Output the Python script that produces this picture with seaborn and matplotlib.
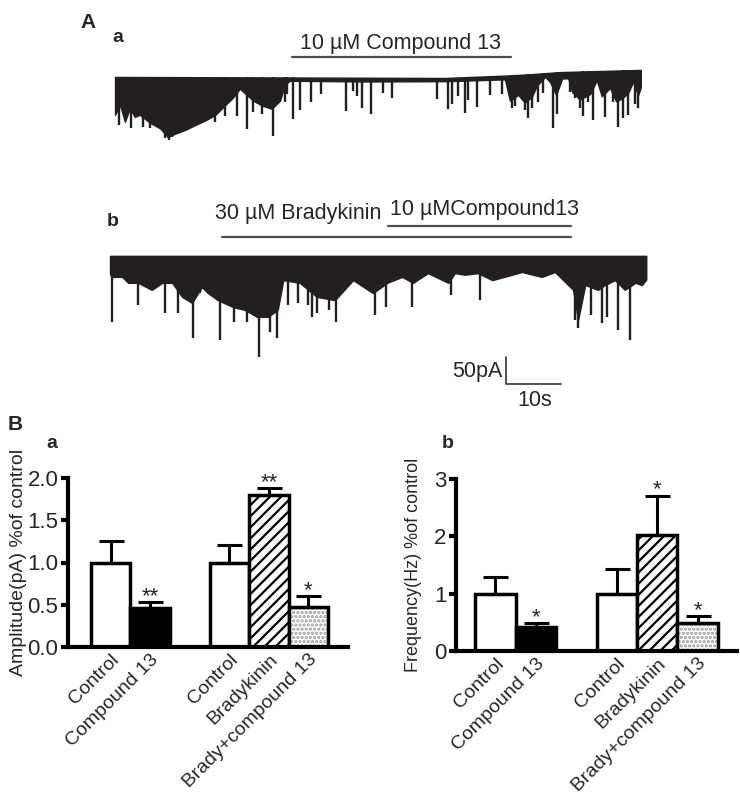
import numpy as np
import pandas as pd
import seaborn as sns
import matplotlib.pyplot as plt
from matplotlib.lines import Line2D
from matplotlib.patches import Rectangle

# ---- Panel A: Stromspuren (Zeit in s, Amplitude in pA relativ zur Basislinie) ----
trace_a_env_t = [0, 0.9, 1.8, 2.7, 3.6, 4.5, 6.4, 8.2, 9.6, 11.1, 12.7, 14.5, 16.4, 18.2, 20.0,
                 21.5, 22.7, 24.0, 25.1, 26.7, 28.5, 30.0, 30.9, 31.8, 45.0, 60.0, 70.9, 71.8,
                 73.3, 74.5, 75.8, 76.7, 78.2, 79.1, 80.2, 81.3, 82.4, 83.1, 84.5, 86.4, 87.6,
                 88.5, 90.0, 91.1, 92.2, 93.3, 94.2, 95.1, 95.6]
trace_a_env = [-68, -50, -81, -56, -72, -68, -83, -93, -109, -102, -96, -87, -78, -68, -50,
               -35, -19, -31, -41, -50, -56, -41, -11, -4, -5, -4, -5, -45,
               -35, -50, -40, -20, -5, -15, -40, -10, -10, -35, -50, -40, -15,
               -45, -30, -55, -50, -40, -20, -45, -30]
trace_a_drift_t = [0, 62.7, 75.5, 80.9, 95.5]
trace_a_drift = [0, -2, 5, 9, 13]
trace_a_spike_t = [0.7, 2.9, 5.1, 6.4, 9.1, 9.8, 10.4, 18.2, 20.0, 22.2, 24.0, 25.1, 26.7, 28.7,
                   30.9, 31.3, 32.4, 33.6, 35.6, 37.5, 42.0, 43.3, 44.0, 44.9, 46.5, 48.7, 50.4,
                   58.5, 60.5, 61.3, 62.4, 63.6, 64.2, 65.8, 68.2, 70.4, 72.2, 72.7, 74.5, 75.1,
                   75.8, 76.9, 77.8, 79.6, 80.4, 82.7, 83.6, 84.5, 85.1, 86.0, 86.9, 89.1, 90.5,
                   91.5, 92.4, 93.3, 94.5, 95.1]
trace_a_spike = [-87, -93, -91, -93, -111, -115, -109, -81, -69, -69, -93, -63, -65, -106,
                 -44, -28, -74, -59, -44, -28, -59, -22, -31, -54, -65, -26, -35,
                 -37, -56, -46, -31, -63, -39, -54, -33, -31, -59, -56, -64, -79,
                 -61, -51, -34, -100, -76, -35, -46, -65, -81, -55, -88, -83, -56,
                 -103, -86, -80, -61, -69]

trace_b_env_t = [0, 0.4, 2.2, 3.3, 5.1, 7.6, 9.5, 11.3, 13.1, 14.9, 16.7, 17.8, 19.6, 22.4, 24.5,
                 26.7, 28.7, 30.5, 31.5, 34.5, 37.6, 40.9, 44.2, 47.8, 50.4, 53.1, 55.1, 57.8,
                 61.5, 62.7, 64.5, 66.9, 69.5, 74.9, 78.5, 80.9, 84.2, 85.1, 86.4, 88.7, 90.0,
                 91.8, 93.6, 95.5, 96.7, 97.5]
trace_b_env = [-30, -35, -35, -46, -46, -59, -46, -46, -72, -83, -54, -65, -78, -91, -96,
               -109, -109, -96, -41, -46, -72, -78, -41, -65, -46, -35, -46, -28,
               -46, -28, -31, -28, -41, -26, -35, -26, -59, -115, -50, -59, -50,
               -41, -59, -46, -50, -40]
trace_b_spike_t = [0.4, 5.1, 10.0, 12.4, 15.1, 16.4, 20.0, 22.5, 24.9, 27.1, 29.1, 30.4, 32.4,
                   34.2, 36.0, 36.7, 37.6, 39.8, 41.1, 48.2, 50.2, 54.9, 62.0, 67.3, 84.5, 85.1,
                   87.5, 89.5, 90.4, 92.4, 94.5]
trace_b_spike = [-119, -87, -102, -102, -148, -65, -152, -119, -119, -183, -137, -148, -87,
                 -83, -87, -109, -102, -96, -119, -106, -91, -91, -69, -78, -115, -130,
                 -106, -120, -109, -133, -152]

# ---- Panel B: Balkendiagramme ----
conds = ['ctrl_a', 'cpd13', 'ctrl_b', 'brady', 'brady_cpd13']
order = ['ctrl_a', 'cpd13', 'gap', 'ctrl_b', 'brady', 'brady_cpd13']
tick_labels = ['Control', 'Compound 13', '', 'Control', 'Bradykinin', 'Brady+compound 13']
amp_mean = [1.0, 0.46, 1.0, 1.80, 0.47]
amp_sem = [0.26, 0.07, 0.21, 0.08, 0.13]
amp_stars = ['', '**', '', '**', '*']
freq_mean = [1.0, 0.42, 1.0, 2.03, 0.48]
freq_sem = [0.29, 0.07, 0.43, 0.68, 0.13]
freq_stars = ['', '*', '', '*', '*']

bar_colors = {'ctrl_a': 'white', 'cpd13': 'black', 'ctrl_b': 'white',
              'brady': 'white', 'brady_cpd13': 'white'}

sns.set_theme(style='ticks')
plt.rcParams['font.family'] = ['Liberation Sans', 'DejaVu Sans']
plt.rcParams['hatch.linewidth'] = 1.6

W, H = 740, 797
TRACE = '#231f20'
fig = plt.figure(figsize=(W / 100, H / 100), dpi=100)


def box(l, t, r, b):
    return [l / W, 1 - b / H, (r - l) / W, (b - t) / H]


def ftext(x, y, s, **kw):
    fig.text(x / W, 1 - y / H, s, **kw)


def fline(x0, x1, y, **kw):
    fig.add_artist(Line2D([x0 / W, x1 / W], [1 - y / H, 1 - y / H], **kw))


# Spuren-Achse: 5.5 px pro s, 0.54 px pro pA
ax_tr = fig.add_axes(box(100, 40, 660, 400))
ax_tr.set_xlim(0, 560 / 5.5)
ax_tr.set_ylim(-360 / 0.54, 0)
ax_tr.axis('off')


def draw_trace(t_off, base, env_t, env, sp_t, sp, top, drift_t=None, drift=None):
    env_t = np.asarray(env_t, float)
    sp_t = np.asarray(sp_t, float)
    if drift_t is None:
        d_env, d_sp = 0, 0
    else:
        d_env = np.interp(env_t, drift_t, drift)
        d_sp = np.interp(sp_t, drift_t, drift)
    ax_tr.fill_between(t_off + env_t, base + d_env + top, base + d_env + np.asarray(env),
                       color=TRACE, lw=1.0)
    ax_tr.vlines(t_off + sp_t, base + d_sp + top, base + d_sp + np.asarray(sp),
                 color=TRACE, lw=1.7)


draw_trace(2.73, -70.4, trace_a_env_t, trace_a_env, trace_a_spike_t, trace_a_spike, 2,
           trace_a_drift_t, trace_a_drift)
draw_trace(1.82, -403.7, trace_b_env_t, trace_b_env, trace_b_spike_t, trace_b_spike, 4)

# Skalenbalken 50 pA / 10 s
sx, sy = 73.8, -637
ax_tr.plot([sx, sx, sx + 10], [sy + 50, sy, sy], color='#333333', lw=1.2)
ftext(503, 372, '50pA', ha='right', va='center', fontsize=15.5)
ftext(535, 401, '10s', ha='center', va='center', fontsize=15.5)

# Beschriftungen Panel A
ftext(88, 22, 'A', ha='center', va='center', fontsize=15, fontweight='bold')
ftext(118, 38, 'a', ha='center', va='center', fontsize=14, fontweight='bold')
ftext(113, 222, 'b', ha='center', va='center', fontsize=14, fontweight='bold')
ftext(400, 44, '10 µM Compound 13', ha='center', va='center', fontsize=15.5)
fline(292, 511, 57, color='#4d4d4d', lw=1.6)
ftext(298, 213, '30 µM Bradykinin', ha='center', va='center', fontsize=15.5)
ftext(485, 209, '10 µMCompound13', ha='center', va='center', fontsize=15.5)
fline(222, 571, 237, color='#4d4d4d', lw=1.6)
fline(388, 571, 226, color='#4d4d4d', lw=1.6)

ftext(15, 425, 'B', ha='center', va='center', fontsize=15, fontweight='bold')
ftext(52, 443, 'a', ha='center', va='center', fontsize=14, fontweight='bold')
ftext(448, 443, 'b', ha='center', va='center', fontsize=14, fontweight='bold')


def bar_panel(ax, means, sems, stars, ylim, yticks, ytick_fmt, ylabel, ylabel_size, xlim, label_x):
    df = pd.DataFrame({'cond': conds, 'val': means})
    sns.barplot(data=df, x='cond', y='val', order=order, hue='cond', palette=bar_colors,
                width=1.0, edgecolor='black', linewidth=2.5, errorbar=None, legend=False,
                saturation=1, ax=ax)
    for p in list(ax.patches):
        c = order[int(round(p.get_x() + p.get_width() / 2))]
        if c == 'brady':
            p.set_hatch('///')
        elif c == 'brady_cpd13':
            p.set_hatch('....')
            p.set_edgecolor('#9a9a9a')
            p.set_linewidth(0)
            ax.add_patch(Rectangle(p.get_xy(), p.get_width(), p.get_height(), fill=False,
                                   edgecolor='black', lw=2.5, zorder=p.get_zorder() + 0.1))
    pos = [order.index(c) for c in conds]
    ax.errorbar(pos, means, yerr=[np.zeros(len(sems)), sems], fmt='none', ecolor='black',
                elinewidth=2.2, capsize=9, capthick=2.2, zorder=1)
    for x, m, s, st in zip(pos, means, sems, stars):
        if st:
            ax.text(x, m + s, st, ha='center', va='baseline', fontsize=16, clip_on=False)
    ax.set_xlim(*xlim)
    ax.set_ylim(*ylim)
    ax.set_yticks(yticks)
    ax.set_yticklabels([ytick_fmt.format(v) for v in yticks])
    ax.set_xticks(range(len(order)))
    ax.set_xticklabels(tick_labels, rotation=45, ha='right', rotation_mode='anchor', fontsize=14)
    ax.tick_params(axis='x', length=0, pad=3)
    ax.tick_params(axis='y', width=3, length=5, labelsize=16, pad=2, color='black')
    ax.set_xlabel('')
    ax.set_ylabel(ylabel, fontsize=ylabel_size)
    ax.yaxis.set_label_coords(label_x, 0.5)
    sns.despine(ax=ax)
    for side in ['left', 'bottom']:
        ax.spines[side].set_linewidth(3)
        ax.spines[side].set_color('black')
    ax.set_facecolor('none')


ax_a = fig.add_axes(box(68, 478, 348, 647))
bar_panel(ax_a, amp_mean, amp_sem, amp_stars, (0, 2.0), [0, 0.5, 1.0, 1.5, 2.0], '{:.1f}',
          'Amplitude(pA) %of control', 14, (-1.08, 6.0), -0.146)

ax_b = fig.add_axes(box(456, 479, 737, 651))
bar_panel(ax_b, freq_mean, freq_sem, freq_stars, (0, 3), [0, 1, 2, 3], '{:d}',
          'Frequency(Hz) %of control', 13, (-0.97, 5.97), -0.121)

fig.savefig('out.png', dpi=100)
